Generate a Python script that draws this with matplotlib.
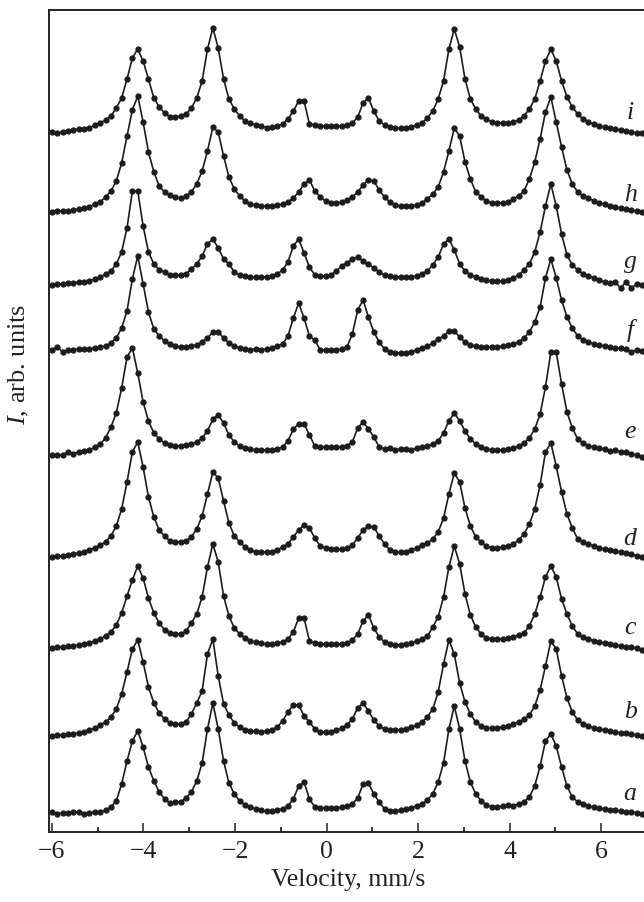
import numpy as np
import matplotlib
matplotlib.use("Agg")
import matplotlib.pyplot as plt
from matplotlib.ticker import MultipleLocator

plt.rcParams['font.family'] = ['Liberation Serif', 'DejaVu Serif']
plt.rcParams['mathtext.fontset'] = 'custom'
plt.rcParams['mathtext.it'] = 'Liberation Serif:italic'
plt.rcParams['mathtext.rm'] = 'Liberation Serif'

# velocity channels (mm/s), equally spaced
velocity = np.linspace(-6.0, 6.892, 111)

# spectra: intensity above each curve's own baseline (arb. units)
spec_a = [2, 0, 1, 1, 2, 2, 0, 1, 2, 2,
          4, 7, 13, 30, 53, 73, 83, 67, 47, 33,
          22, 15, 11, 12, 12, 16, 22, 33, 51, 85,
          111, 85, 53, 31, 20, 13, 9, 7, 5, 4,
          3, 3, 4, 5, 8, 15, 28, 32, 15, 7,
          6, 6, 6, 6, 7, 8, 10, 16, 30, 31,
          20, 12, 5, 3, 3, 4, 5, 6, 8, 10,
          14, 20, 32, 51, 85, 108, 85, 53, 32, 20,
          13, 9, 7, 7, 8, 9, 8, 10, 12, 17,
          28, 48, 73, 80, 68, 47, 28, 17, 12, 10,
          8, 7, 6, 5, 4, 4, 3, 2, 2, 1, 0]
spec_b = [0, 1, 1, 2, 2, 3, 4, 6, 8, 11,
          14, 19, 27, 42, 64, 87, 96, 74, 49, 33,
          23, 17, 13, 12, 12, 14, 22, 33, 45, 82,
          97, 60, 32, 21, 13, 9, 6, 5, 5, 4,
          5, 6, 9, 15, 24, 31, 31, 20, 14, 7,
          4, 4, 4, 6, 8, 11, 17, 28, 33, 25,
          16, 10, 7, 6, 6, 6, 7, 9, 11, 14,
          19, 27, 44, 72, 96, 82, 53, 34, 22, 14,
          10, 8, 8, 8, 9, 10, 12, 14, 17, 21,
          30, 46, 70, 95, 87, 60, 38, 24, 16, 12,
          10, 8, 7, 6, 5, 4, 3, 3, 2, 1, 0]
spec_c = [0, 1, 1, 2, 2, 3, 4, 5, 7, 9,
          12, 16, 23, 35, 52, 68, 82, 70, 50, 35,
          25, 18, 15, 14, 14, 17, 25, 34, 51, 81,
          104, 86, 52, 32, 20, 14, 10, 7, 6, 5,
          4, 4, 5, 6, 9, 16, 30, 30, 7, 5,
          4, 4, 4, 4, 4, 5, 8, 14, 27, 33,
          20, 11, 6, 4, 3, 3, 4, 5, 7, 9,
          12, 21, 31, 51, 81, 102, 84, 54, 33, 21,
          14, 10, 9, 9, 9, 10, 11, 13, 15, 22,
          34, 51, 71, 82, 71, 49, 34, 22, 14, 11,
          9, 7, 6, 5, 4, 3, 2, 1, 1, 0, -2]
spec_d = [0, 1, 1, 2, 3, 4, 5, 7, 9, 12,
          15, 21, 31, 48, 75, 105, 115, 90, 60, 40,
          27, 21, 16, 15, 15, 16, 20, 28, 41, 63,
          85, 79, 56, 34, 21, 15, 10, 7, 5, 5,
          5, 5, 7, 10, 13, 20, 27, 32, 29, 19,
          11, 9, 8, 8, 8, 9, 12, 19, 27, 31,
          30, 21, 13, 7, 5, 5, 5, 7, 9, 12,
          14, 18, 25, 39, 63, 84, 75, 49, 31, 20,
          15, 11, 9, 9, 10, 11, 13, 17, 23, 33,
          48, 72, 105, 114, 91, 65, 43, 29, 18, 15,
          13, 11, 9, 8, 7, 6, 5, 4, 3, 1, 0]
spec_e = [0, 0, 0, 3, 1, 3, 4, 5, 8, 11,
          17, 28, 42, 67, 98, 107, 82, 53, 34, 22,
          16, 12, 10, 9, 9, 10, 11, 13, 17, 24,
          36, 40, 32, 20, 13, 9, 7, 6, 5, 5,
          5, 5, 6, 8, 14, 26, 31, 31, 20, 9,
          8, 8, 8, 8, 8, 9, 13, 27, 33, 26,
          18, 8, 6, 7, 5, 6, 6, 5, 7, 8,
          9, 11, 14, 22, 34, 42, 34, 24, 16, 11,
          8, 6, 5, 5, 5, 6, 7, 9, 12, 17,
          26, 41, 68, 103, 103, 71, 43, 27, 16, 12,
          9, 8, 7, 6, 4, 5, 3, 3, 1, 0, -2]
spec_f = [0, 3, -2, 0, 0, 1, 1, 1, 2, 3,
          4, 7, 12, 22, 39, 71, 94, 66, 38, 21,
          14, 9, 6, 4, 3, 3, 4, 5, 8, 12,
          18, 18, 12, 7, 4, 2, 1, 0, 1, 0,
          1, 2, 4, 6, 14, 32, 47, 32, 14, 10,
          0, 0, 0, 0, 1, 3, 16, 40, 50, 33,
          18, 8, 1, -2, -3, -3, -3, -2, 0, 2,
          4, 7, 11, 14, 19, 19, 13, 8, 5, 4,
          3, 3, 3, 3, 4, 5, 6, 8, 12, 18,
          28, 43, 72, 91, 72, 50, 33, 22, 14, 10,
          8, 6, 5, 4, 3, 2, 2, 1, -2, 0, -1]
spec_g = [0, 1, 1, 2, 2, 3, 3, 4, 6, 8,
          11, 14, 21, 33, 57, 94, 94, 59, 33, 21,
          15, 13, 10, 10, 10, 11, 16, 21, 29, 41,
          46, 37, 26, 21, 13, 10, 9, 8, 8, 8,
          8, 9, 11, 15, 23, 39, 46, 32, 18, 10,
          9, 9, 10, 14, 19, 22, 26, 28, 24, 21,
          17, 13, 10, 9, 8, 8, 8, 8, 9, 11,
          14, 20, 28, 41, 46, 35, 21, 14, 10, 8,
          6, 5, 4, 4, 4, 5, 7, 10, 15, 21,
          33, 53, 79, 101, 79, 51, 30, 20, 15, 11,
          9, 7, 5, 3, 2, 3, -3, 3, -3, 1, 0]
spec_h = [0, 1, 1, 1, 2, 3, 4, 5, 8, 10,
          15, 21, 31, 49, 76, 102, 116, 90, 60, 40,
          26, 20, 17, 15, 14, 16, 20, 28, 41, 61,
          85, 80, 56, 35, 23, 16, 11, 8, 7, 6,
          6, 6, 7, 8, 10, 14, 20, 28, 32, 21,
          15, 11, 9, 9, 10, 12, 15, 20, 27, 32,
          31, 22, 15, 10, 7, 6, 6, 6, 7, 9,
          13, 18, 25, 40, 61, 84, 76, 50, 33, 20,
          15, 11, 9, 9, 9, 10, 13, 16, 21, 33,
          50, 73, 100, 115, 90, 65, 42, 28, 20, 16,
          14, 11, 9, 8, 6, 5, 4, 3, 2, 1, 0]
spec_i = [0, -1, 0, 1, 2, 3, 3, 4, 7, 9,
          12, 16, 24, 34, 53, 74, 83, 71, 53, 34,
          25, 19, 15, 15, 16, 18, 24, 34, 51, 83,
          104, 84, 53, 33, 23, 16, 11, 9, 7, 6,
          4, 5, 6, 8, 13, 21, 31, 31, 8, 7,
          6, 6, 6, 6, 6, 7, 9, 15, 29, 34,
          21, 11, 7, 5, 4, 4, 4, 5, 7, 9,
          14, 21, 33, 51, 83, 103, 85, 53, 33, 23,
          16, 13, 10, 9, 9, 9, 10, 12, 16, 23,
          33, 51, 71, 83, 71, 51, 35, 25, 18, 13,
          10, 8, 6, 5, 4, 3, 2, 1, 0, -1, -1]

curve_names = ['a', 'b', 'c', 'd', 'e', 'f', 'g', 'h', 'i']
spectra = [spec_a, spec_b, spec_c, spec_d, spec_e, spec_f, spec_g, spec_h, spec_i]

# vertical stacking offsets and label placement (layout, not data)
offsets = [18, 96, 184, 275, 377, 482, 547, 620, 700]
label_rise = [15, 19, 15, 13, 18, 14, 18, 12, 14]
label_x = 6.63

xticks = [-6, -4, -2, 0, 2, 4, 6]

fig = plt.figure(figsize=(6.44, 9.03), dpi=100)
ax = fig.add_axes([48.7 / 644, 70 / 903, (647 - 48.7) / 644, 822 / 903])

col = '#1c1c1c'
for name, spec, off, rise in zip(curve_names, spectra, offsets, label_rise):
    y = np.asarray(spec, dtype=float) + off
    ax.plot(velocity, y, '-', color=col, lw=1.2, marker='o', ms=3.5,
            mec=col, mfc=col, clip_on=True)
    ax.text(label_x, off + rise, name, fontsize=18.5, style='italic',
            ha='center', va='baseline', color='#222222')

ax.set_xlim(-6.07, 7.0)
ax.set_ylim(0, 822)
ax.set_xticks(xticks)
ax.set_xticklabels(['\u2212' + str(abs(t)) if t < 0 else str(t) for t in xticks])
ax.xaxis.set_minor_locator(MultipleLocator(1))
ax.set_yticks([])
ax.tick_params(axis='x', which='major', direction='in', length=6.5, width=1.1,
               labelsize=18.5, pad=6, colors='#222222')
ax.tick_params(axis='x', which='minor', direction='in', length=3.6, width=1.1)
for s in ['left', 'bottom', 'top', 'right']:
    ax.spines[s].set_linewidth(1.4)
    ax.spines[s].set_color('#222222')

ax.set_xlabel('Velocity, mm/s', fontsize=18.5, labelpad=4, color='#222222')
ax.set_ylabel('$\\mathit{I}$, arb. units', fontsize=19, color='#222222')
ax.yaxis.set_label_coords(-0.03, 0.57)

fig.savefig('out.png', dpi=100)
